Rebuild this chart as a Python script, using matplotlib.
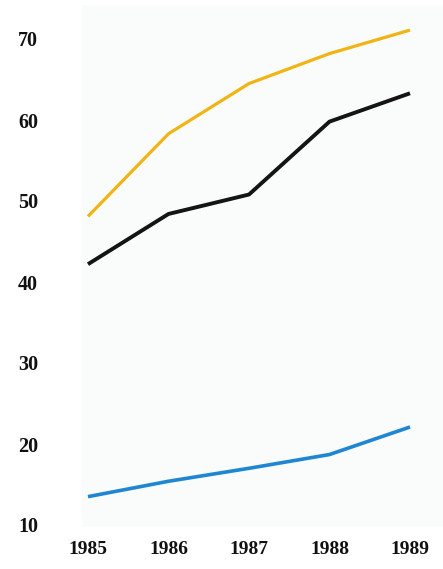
import matplotlib
matplotlib.use("Agg")
import matplotlib.pyplot as plt

years = [1985, 1986, 1987, 1988, 1989]
yellow_series = [48.1, 58.3, 64.5, 68.2, 71.1]
black_series = [42.2, 48.4, 50.8, 59.8, 63.3]
blue_series = [13.5, 15.4, 17.0, 18.7, 22.1]
y_ticks = [10, 20, 30, 40, 50, 60, 70]

W, H = 443, 569
fig = plt.figure(figsize=(W / 100, H / 100), dpi=100)
fig.patch.set_facecolor("white")
left, right, top, bottom = 82, 443, 5, 527
ax = fig.add_axes([left / W, (H - bottom) / H, (right - left) / W, (bottom - top) / H])
ax.set_facecolor("#fafbfb")

ax.plot(years, yellow_series, color="#f0b514", lw=2.3, solid_capstyle="butt")
ax.plot(years, black_series, color="#141414", lw=2.8, solid_capstyle="butt")
ax.plot(years, blue_series, color="#1f86d2", lw=2.6, solid_capstyle="butt")

px_per_unit = (525 - 39) / 60.0
ax.set_ylim(10 - (bottom - 525) / px_per_unit, 70 + (39 - top) / px_per_unit)
px_per_year = (410 - 88) / 4.0
ax.set_xlim(1985 - (88 - left) / px_per_year, 1989 + (right - 410) / px_per_year)

ax.set_yticks(y_ticks)
ax.set_yticklabels([str(v) for v in y_ticks])
ax.set_xticks(years)
ax.set_xticklabels([str(y) for y in years])
for s in ax.spines.values():
    s.set_visible(False)
ax.tick_params(axis="y", length=0, pad=31.5)
ax.tick_params(axis="x", length=0, pad=10)
for lab in ax.get_yticklabels():
    lab.set_fontfamily("Liberation Serif")
    lab.set_fontweight("bold")
    lab.set_fontsize(14.5)
    lab.set_color("#111111")
for lab in ax.get_xticklabels():
    lab.set_fontfamily("Liberation Serif")
    lab.set_fontweight("bold")
    lab.set_fontsize(14)
    lab.set_color("#111111")

fig.savefig("out.png", dpi=100)
